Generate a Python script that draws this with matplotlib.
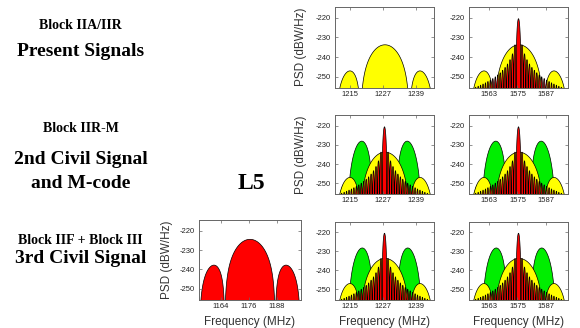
import numpy as np
import matplotlib
matplotlib.use('Agg')
import matplotlib.pyplot as plt

plt.rcParams['font.family'] = ['Liberation Sans', 'DejaVu Sans']
plt.rcParams['axes.unicode_minus'] = False

# values
band_centers = [1227.6, 1575.42]      # L2, L1 carrier (MHz)
band_halfspan = [18.0, 20.7]          # half width of x range on each axis
band_lobe = [8.9, 10.23]              # first null of the 10 Mcps lobe, in axis MHz
band_ticks = [[1215, 1227, 1239], [1563, 1575, 1587]]

l5_center = 1176.45
l5_halfspan = 21.85
l5_lobe = 10.8
l5_ticks = [1164, 1176, 1188]
l5_peak = -224.5

py_peak = -233.5   # P(Y) code, yellow
ca_peak = -220.5   # C/A / L2C, red
m_peak = -228.0    # M-code BOC(10,5), green

signals_by_row = [
    [['py'], ['py', 'ca']],
    [['m', 'py', 'ca'], ['m', 'py', 'ca']],
    [['m', 'py', 'ca'], ['m', 'py', 'ca']],
]

y_ticks = [-220, -230, -240, -250]
y_lim = (-255.7, -214.3)

row_titles = ['Block IIA/IIR', 'Block IIR-M', 'Block IIF + Block III']
row_subtitles = [['Present Signals'], ['2nd Civil Signal', 'and M-code'], ['3rd Civil Signal']]

colors = {'py': '#ffff00', 'ca': '#ff0000', 'm': '#00ee00', 'l5': '#ff0000'}
peaks = {'py': py_peak, 'ca': ca_peak, 'm': m_peak}

W, H = 580, 328
fig = plt.figure(figsize=(W / 100, H / 100), dpi=100)


def add_ax(left, right, top, bottom):
    return fig.add_axes([left / W, 1 - bottom / H, (right - left) / W, (bottom - top) / H])


def psd_db(kind, f, lobe, peak):
    with np.errstate(divide='ignore', invalid='ignore'):
        if kind == 'ca':
            p = np.sinc(f / (lobe / 10.0)) ** 2
        elif kind == 'm':
            # sine phased BOC with subcarrier = lobe, chip = lobe / 2
            x = np.pi * f / (2 * lobe)
            p = (4 * np.sin(x) ** 2 * np.cos(2 * x) / np.where(f == 0, 1e-9, f)) ** 2
        else:
            p = np.sinc(f / lobe) ** 2
        db = 10 * np.log10(p / p.max() + 1e-40)
    return np.maximum(db + peak, -400)


def style_ax(ax, xticks, xlim):
    ax.set_xlim(*xlim)
    ax.set_ylim(*y_lim)
    ax.set_xticks(xticks)
    ax.set_xticklabels([str(t) for t in xticks])
    ax.set_yticks(y_ticks)
    ax.set_yticklabels([str(t) for t in y_ticks])
    ax.tick_params(direction='in', length=2, width=0.5, color='#666666',
                   labelsize=5.5, labelcolor='#222222', top=True, right=True)
    ax.tick_params(axis='x', pad=2.5)
    ax.tick_params(axis='y', pad=2.8)
    for s in ax.spines.values():
        s.set_color('#666666')
        s.set_linewidth(0.7)


def draw_band(ax, b, kinds):
    c = band_centers[b]
    f = np.linspace(-band_halfspan[b], band_halfspan[b], 6001)
    for kind in kinds:
        db = psd_db(kind, f, band_lobe[b], peaks[kind])
        ax.fill_between(f + c, -400, db, facecolor=colors[kind], edgecolor='black', linewidth=0.5)
    style_ax(ax, band_ticks[b], (c - band_halfspan[b], c + band_halfspan[b]))


cols = [(335, 434), (469, 568)]
rows = [(6.5, 88), (115, 194), (221.5, 300)]

for r in range(3):
    for b in range(2):
        ax = add_ax(cols[b][0], cols[b][1], rows[r][0], rows[r][1])
        draw_band(ax, b, signals_by_row[r][b])
        if b == 0 and r < 2:
            ax.set_ylabel('PSD (dBW/Hz)', fontsize=8.5, color='#333333', va='center')
            ax.yaxis.set_label_coords(-0.345, 0.5)
        if r == 2:
            ax.set_xlabel('Frequency (MHz)', fontsize=8.5, color='#333333', va='center')
            ax.xaxis.set_label_coords(0.5, -22 / 78.5)

# L5 panel
ax5 = add_ax(199, 301, 219.5, 300)
f5 = np.linspace(-l5_halfspan, l5_halfspan, 4001)
ax5.fill_between(f5 + l5_center, -400, psd_db('py', f5, l5_lobe, l5_peak),
                 facecolor=colors['l5'], edgecolor='black', linewidth=0.5)
style_ax(ax5, l5_ticks, (l5_center - l5_halfspan, l5_center + l5_halfspan))
ax5.set_ylabel('PSD (dBW/Hz)', fontsize=8.5, color='#333333', va='center')
ax5.yaxis.set_label_coords(-0.309, 0.5)
ax5.set_xlabel('Frequency (MHz)', fontsize=8.5, color='#333333', va='center')
ax5.xaxis.set_label_coords(0.5, -22 / 80.5)

# row captions
serif = ['Liberation Serif', 'DejaVu Serif']
title_base = [29, 131.7, 244]
sub_base = [[56], [163.5, 188], [263]]
for r in range(3):
    fig.text(80.5 / W, 1 - title_base[r] / H, row_titles[r], family=serif, weight='bold',
             fontsize=10, ha='center', va='baseline')
    for line, yb in zip(row_subtitles[r], sub_base[r]):
        fig.text(80.5 / W, 1 - yb / H, line, family=serif, weight='bold',
                 fontsize=14, ha='center', va='baseline')
fig.text(251 / W, 1 - 189 / H, 'L5', family=serif, weight='bold', fontsize=17,
         ha='center', va='baseline')

fig.savefig('out.png', dpi=100, facecolor='white')
